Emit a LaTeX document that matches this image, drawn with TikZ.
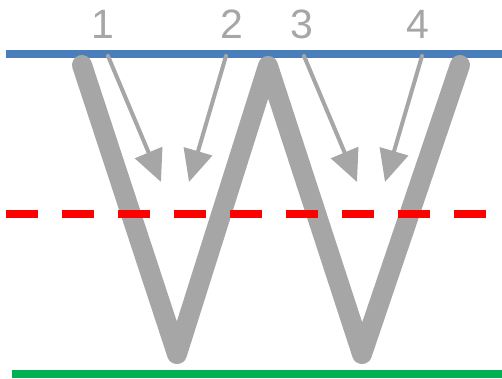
\documentclass[tikz,border=0pt]{standalone}
\usepackage{fontspec}
\setmainfont{Liberation Sans}
\usetikzlibrary{arrows.meta}
\definecolor{wgrey}{HTML}{A6A6A6}
\definecolor{lblue}{HTML}{4A7EBB}
\definecolor{lgreen}{HTML}{00B050}
\definecolor{lred}{HTML}{FF0000}
\tikzset{
  wstroke/.style={draw=wgrey, line width=20pt, line cap=round, line join=round},
  garrow/.style={draw=wgrey, line width=4pt, line cap=round, -{Triangle[length=32pt, width=29pt]}},
  numlabel/.style={text=wgrey, font=\fontsize{41}{41}\selectfont, anchor=base, inner sep=0pt},
  hline/.style={line width=8pt}
}
\begin{document}
\begin{tikzpicture}[x=1pt,y=-1pt]
\useasboundingbox (0,0) rectangle (502,379);
% reference lines
\coordinate (b1) at (6,54);
\coordinate (b2) at (502,54);
\coordinate (r1) at (6,214);
\coordinate (r2) at (486,214);
\coordinate (g1) at (12,374);
\coordinate (g2) at (502,374);
\draw[hline, lblue] (b1) -- (b2);
% W
\coordinate (w1) at (82,65);
\coordinate (w2) at (177,354);
\coordinate (w3) at (268,66);
\coordinate (w4) at (362,354);
\coordinate (w5) at (460,65);
\draw[wstroke] (w1) -- (w2) -- (w3) -- (w4) -- (w5);
% arrows
\coordinate (a1s) at (108,56);
\coordinate (a1e) at (161,182);
\coordinate (a2s) at (226,56);
\coordinate (a2e) at (189,182);
\coordinate (a3s) at (304,56);
\coordinate (a3e) at (357,182);
\coordinate (a4s) at (422,56);
\coordinate (a4e) at (385,182);
\draw[garrow] (a1s) -- (a1e);
\draw[garrow] (a2s) -- (a2e);
\draw[garrow] (a3s) -- (a3e);
\draw[garrow] (a4s) -- (a4e);
% dashed and bottom lines
\draw[hline, lred, dash pattern=on 32pt off 24pt] (r1) -- (r2);
\draw[hline, lgreen] (g1) -- (g2);
% labels
\node[numlabel] (n1) at (103,39) {1};
\node[numlabel] (n2) at (232,39) {2};
\node[numlabel] (n3) at (302,39) {3};
\node[numlabel] (n4) at (418,39) {4};
\end{tikzpicture}
\end{document}
